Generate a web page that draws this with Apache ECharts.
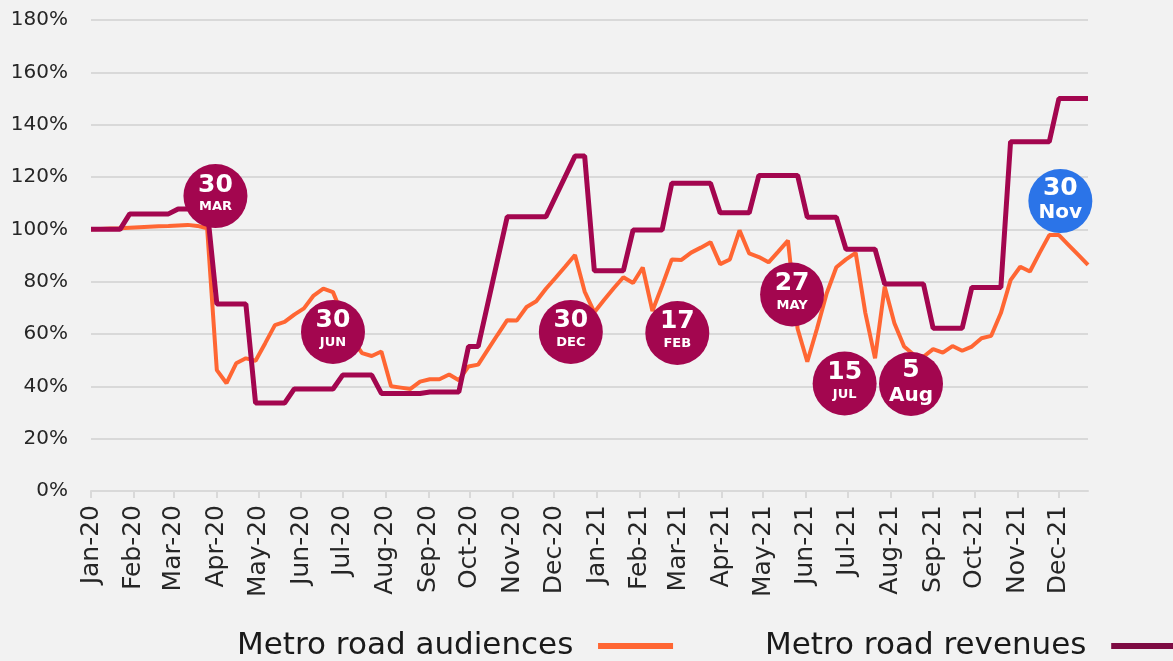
<!DOCTYPE html>
<html><head><meta charset="utf-8">
<script src="https://cdn.jsdelivr.net/npm/echarts@6/dist/echarts.min.js"></script>
<style>html,body{margin:0;padding:0;background:#f2f2f2}#c{width:1173px;height:661px}</style>
</head><body><div id="c"></div>
<script>
// ---- data ----
const startDate = '2020-01-01';
const endDate = '2021-12-22';
const monthNames = ['Jan','Feb','Mar','Apr','May','Jun','Jul','Aug','Sep','Oct','Nov','Dec'];
const seriesNames = ['Metro road audiences', 'Metro road revenues'];
// weekly index values (%), one point every 7 days from startDate
const audiences = [
  100, 100.1, 100.3, 100.4, 100.6, 100.8, 101, 101.2, 101.3, 101.5,
  101.7, 101.3, 100.4, 46.2, 41.2, 48.8, 50.7, 49.8, 56.5, 63.4,
  64.6, 67.4, 69.8, 74.7, 77.3, 76, 67, 58, 52.7, 51.6,
  53.3, 40, 39.5, 39, 41.8, 42.7, 42.7, 44.5, 42.3, 47.6,
  48.3, 54, 59.7, 65.3, 65.2, 70.3, 72.5, 77.3, 81.5, 85.8,
  90.2, 76.2, 68.3, 73, 77.5, 81.7, 79.5, 85.4, 68.8, 78.4,
  88.5, 88.3, 91.1, 93, 95.1, 86.7, 88.5, 99.6, 90.8, 89.4,
  87.4, 91.5, 95.7, 62, 49.4, 62, 75.5, 85.5, 88.5, 91,
  68, 50.7, 78.1, 64.1, 55.2, 52.1, 51.3, 54.2, 52.9, 55.4,
  53.6, 55.2, 58.4, 59.3, 68, 80.6, 85.7, 83.9, 91, 97.8,
  97.8, 94, 90.2, 86.4
];
const revenues = [
  100, 100, 100, 100, 105.9, 105.9, 105.9, 105.9, 105.9, 107.8,
  107.8, 107.8, 107.8, 71.5, 71.5, 71.5, 71.5, 33.6, 33.6, 33.6,
  33.6, 39, 39, 39, 39, 39, 44.3, 44.3, 44.3, 44.3,
  37.3, 37.3, 37.3, 37.3, 37.3, 37.8, 37.8, 37.8, 37.8, 55.2,
  55.2, null, null, 104.8, 104.8, 104.8, 104.8, 104.8, null, null,
  128, 128, 84.2, 84.2, 84.2, 84.2, 99.7, 99.7, 99.7, 99.7,
  117.6, 117.6, 117.6, 117.6, 117.6, 106.3, 106.3, 106.3, 106.3, 120.6,
  120.6, 120.6, 120.6, 120.6, 104.6, 104.6, 104.6, 104.6, 92.4, 92.4,
  92.4, 92.4, 79.1, 79.1, 79.1, 79.1, 79.1, 62.2, 62.2, 62.2,
  62.2, 77.8, 77.8, 77.8, 77.8, 133.5, 133.5, 133.5, 133.5, 133.5,
  150, 150, 150, 150
];
// date callouts
const annotationDates  = ['2020-03-31','2020-06-24','2020-12-13','2021-02-28','2021-05-22','2021-06-29','2021-08-16','2021-12-02'];
const annotationLevels = [112.7, 60.8, 60.8, 60.4, 75.1, 41.1, 40.9, 110.8];
const annotationDay    = ['30','30','30','17','27','15','5','30'];
const annotationMonth  = ['MAR','JUN','DEC','FEB','MAY','JUL','Aug','Nov'];
const annotationLatest = [false,false,false,false,false,false,false,true];
const yMin = 0, yMax = 180, yStep = 20;

// ---- build ----
function fmt(d){ return d.toISOString().slice(0,10); }
const categories = [];
for (let d = new Date(startDate + 'T00:00:00Z'); fmt(d) <= endDate; d.setUTCDate(d.getUTCDate()+1)) categories.push(fmt(d));
const weekDates = audiences.map((_, k) => categories[k*7]);
const isMonthStart = (i, v) => v.slice(8) === '01';

const FONT = 'DejaVu Sans';
const ORANGE = '#FF6633', MAROON = '#A3064F', BLUE = '#2B74E8';

const chart = echarts.init(document.getElementById('c'));
chart.setOption({
  backgroundColor: '#f2f2f2',
  animation: false,
  textStyle: { fontFamily: FONT },
  grid: { left: 91, right: 85, top: 20, bottom: 170, containLabel: false },
  legend: [
    { left: 232, top: 623, data: [seriesNames[0]], align: 'right', icon: 'rect',
      itemWidth: 75, itemHeight: 6, formatter: n => n + '  ',
      textStyle: { fontSize: 31, color: '#1a1a1a', fontFamily: FONT, lineHeight: 36 } },
    { left: 760, top: 623, data: [seriesNames[1]], align: 'right', icon: 'rect',
      itemWidth: 75, itemHeight: 6, formatter: n => n + '  ',
      itemStyle: { color: '#7D0B43' },
      textStyle: { fontSize: 31, color: '#1a1a1a', fontFamily: FONT, lineHeight: 36 } }
  ],
  xAxis: {
    type: 'category', data: categories, boundaryGap: false,
    axisLine: { lineStyle: { color: '#d9d9d9', width: 2 } },
    axisTick: { show: true, interval: isMonthStart, length: 7, lineStyle: { color: '#d9d9d9', width: 2 } },
    axisLabel: { interval: isMonthStart, rotate: 90, margin: 14, fontSize: 25, color: '#262626', fontFamily: FONT,
      formatter: v => monthNames[+v.slice(5,7)-1] + '-' + v.slice(2,4) },
    splitLine: { show: false }
  },
  yAxis: {
    type: 'value', min: yMin, max: yMax, interval: yStep,
    axisLine: { show: false }, axisTick: { show: false },
    axisLabel: { formatter: '{value}%', fontSize: 20, color: '#262626', margin: 23, fontFamily: FONT },
    splitLine: { lineStyle: { color: '#d9d9d9', width: 2 } }
  },
  series: [
    { name: seriesNames[0], type: 'line', showSymbol: false, symbol: 'none',
      lineStyle: { color: ORANGE, width: 4 }, itemStyle: { color: ORANGE }, z: 2,
      data: audiences.map((v, k) => [weekDates[k], v]) },
    { name: seriesNames[1], type: 'line', showSymbol: false, symbol: 'none', connectNulls: true,
      lineStyle: { color: MAROON, width: 5 }, itemStyle: { color: MAROON }, z: 3,
      data: revenues.map((v, k) => [weekDates[k], v === null ? '-' : v]) },
    { name: 'callouts', type: 'scatter', symbol: 'circle', symbolSize: 64, z: 5, silent: true,
      emphasis: { disabled: true },
      itemStyle: { opacity: 1 },
      data: annotationDates.map((d, i) => {
        const mixed = annotationMonth[i] !== annotationMonth[i].toUpperCase();
        return {
          value: [d, annotationLevels[i]],
          itemStyle: { color: annotationLatest[i] ? BLUE : MAROON, opacity: 1 },
          label: { formatter: mixed ? `{n2|${annotationDay[i]}}\n{ml|${annotationMonth[i]}}` : `{n|${annotationDay[i]}}\n{mu|${annotationMonth[i]}}` }
        };
      }),
      label: { show: true, position: 'inside', color: '#fff',
        rich: {
          n:  { fontSize: 25, fontWeight: 'bold', color: '#fff', lineHeight: 22, fontFamily: FONT, align: 'center' },
          mu: { fontSize: 13, fontWeight: 'bold', color: '#fff', lineHeight: 22, fontFamily: FONT, align: 'center' },
          n2: { fontSize: 25, fontWeight: 'bold', color: '#fff', lineHeight: 24, fontFamily: FONT, align: 'center' },
          ml: { fontSize: 20, fontWeight: 'bold', color: '#fff', lineHeight: 26, fontFamily: FONT, align: 'center' }
        } }
    }
  ]
});
</script></body></html>
